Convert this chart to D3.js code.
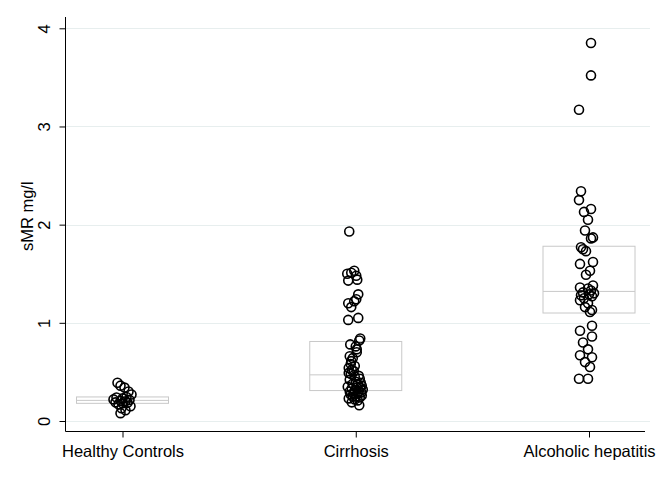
<!DOCTYPE html>
<html>
<head>
<meta charset="utf-8">
<script src="https://cdn.jsdelivr.net/npm/d3@7"></script>
<style>
  html, body { margin: 0; padding: 0; background: #fff; }
  svg { display: block; font-family: "Liberation Sans", Arial, Helvetica, sans-serif; }
</style>
</head>
<body>
<svg id="chart" width="661" height="481"></svg>
<script>
// ---- data ----
const categories = ["Healthy Controls", "Cirrhosis", "Alcoholic hepatitis"];
const yTicks = [0, 1, 2, 3, 4];
const yLabel = "sMR mg/l";

// observed values per group
const healthyValues = [0.39, 0.36, 0.34, 0.30, 0.27, 0.245, 0.24, 0.23, 0.22, 0.215,
  0.205, 0.20, 0.19, 0.185, 0.18, 0.17, 0.15, 0.13, 0.11, 0.08];
const healthyJitter = [-0.5, -0.2, 0.2, 0.6, 0.9, 0.4, -0.6, 0.0, -0.9, 0.7,
  -0.2, 0.3, -0.7, 0.5, 0.0, -0.4, 0.8, -0.1, 0.3, -0.2];

const cirrhosisValues = [1.93, 1.53, 1.51, 1.50, 1.48, 1.44, 1.43, 1.29, 1.24, 1.22,
  1.20, 1.16, 1.05, 1.03, 0.84, 0.82,
  0.78, 0.76, 0.73, 0.70, 0.66, 0.64, 0.61, 0.58, 0.56, 0.54, 0.52, 0.51, 0.49, 0.48,
  0.46, 0.45, 0.43, 0.42, 0.40, 0.39, 0.38, 0.37, 0.36, 0.35, 0.34, 0.34, 0.33, 0.32, 0.31,
  0.30, 0.30, 0.29, 0.28, 0.28, 0.27, 0.26, 0.25, 0.25, 0.24, 0.23, 0.22, 0.21, 0.19, 0.16];
const cirrhosisJitter = [-0.65, -0.15, -0.45, -0.85, 0.05, 0.15, -0.75, 0.25, 0.05, -0.15,
  -0.75, -0.45, 0.25, -0.75, 0.45, 0.35,
  -0.55, 0.0, 0.1, 0.1, -0.6, -0.3, -0.45, -0.5, -0.1, -0.7, -0.4, -0.2, -0.7, -0.5,
  0.3, -0.1, 0.4, -0.6, 0.0, 0.5, -0.3, 0.2, 0.6, -0.8, 0.1, 0.45, -0.4, 0.7, -0.1,
  0.3, -0.6, 0.55, -0.2, 0.2, -0.5, 0.6, 0.0, -0.3, 0.4, -0.7, -0.1, 0.2, -0.4, 0.35];

const hepatitisValues = [3.85, 3.52, 3.17, 2.34, 2.25, 2.16, 2.13, 2.05, 1.94, 1.87, 1.86,
  1.77, 1.75, 1.73, 1.62, 1.60, 1.53, 1.49, 1.38, 1.36, 1.35, 1.33,
  1.31, 1.30, 1.29, 1.28, 1.27, 1.25, 1.23, 1.20, 1.16, 1.13, 1.11,
  0.97, 0.92, 0.86, 0.80, 0.73, 0.67, 0.65, 0.60, 0.55, 0.43, 0.43];
const hepatitisJitter = [0.2, 0.2, -1.0, -0.8, -1.0, 0.2, -0.5, -0.1, -0.4, 0.4, 0.2,
  -0.8, -0.6, -0.3, 0.4, -0.9, 0.1, -0.3, 0.4, -0.9, -0.1, 0.2,
  -0.6, 0.5, 0.0, -0.8, 0.3, -0.5, -0.9, -0.1, -0.4, 0.3, 0.1,
  0.3, -0.9, 0.3, -0.6, -0.1, -0.9, 0.3, -0.4, 0.1, -1.0, -0.1];

// box statistics (q1, median, q3)
const boxQ1 = [0.18, 0.31, 1.10];
const boxMedian = [0.21, 0.47, 1.32];
const boxQ3 = [0.245, 0.81, 1.78];

const groups = [
  { cat: categories[0], values: healthyValues, jitter: healthyJitter },
  { cat: categories[1], values: cirrhosisValues, jitter: cirrhosisJitter },
  { cat: categories[2], values: hepatitisValues, jitter: hepatitisJitter }
];

// ---- layout ----
const svg = d3.select("#chart");
const plotLeft = 65.5, plotRight = 650, plotTop = 17, plotBottom = 431.5;
const fontSize = 16.5;

const y = d3.scaleLinear().domain([0, 4]).range([421, 28.3]);
const x = d3.scalePoint().domain(categories).range([122.5, 589]);
const jit = d3.scaleLinear().domain([-1, 1]).range([-10, 10]);
const boxHalf = 46;

// gridlines
svg.append("g")
  .selectAll("line").data(yTicks).join("line")
  .attr("x1", plotLeft).attr("x2", plotRight)
  .attr("y1", d => Math.round(y(d)) + 0.5).attr("y2", d => Math.round(y(d)) + 0.5)
  .attr("stroke", "#e7eeee").attr("stroke-width", 1);

// boxes
const boxG = svg.append("g");
categories.forEach((c, i) => {
  const cx = x(c);
  boxG.append("rect")
    .attr("x", cx - boxHalf).attr("width", boxHalf * 2)
    .attr("y", y(boxQ3[i])).attr("height", y(boxQ1[i]) - y(boxQ3[i]))
    .attr("fill", "none").attr("stroke", "#c8c8c8").attr("stroke-width", 1);
  boxG.append("line")
    .attr("x1", cx - boxHalf).attr("x2", cx + boxHalf)
    .attr("y1", y(boxMedian[i])).attr("y2", y(boxMedian[i]))
    .attr("stroke", "#c8c8c8").attr("stroke-width", 1);
});

// points
const pts = [];
groups.forEach(g => g.values.forEach((v, i) => pts.push({ cat: g.cat, v, j: g.jitter[i] })));
svg.append("g")
  .selectAll("circle").data(pts).join("circle")
  .attr("cx", d => x(d.cat) + jit(d.j))
  .attr("cy", d => y(d.v))
  .attr("r", 4.5)
  .attr("fill", "none")
  .attr("stroke", "#000")
  .attr("stroke-width", 1.6);

// y axis
const yAxis = svg.append("g")
  .attr("transform", `translate(${plotLeft},0)`)
  .call(d3.axisLeft(y).tickValues(yTicks).tickSize(6).tickPadding(0).tickFormat(d3.format("d")));
yAxis.select(".domain").attr("d", `M0,${plotTop}V${plotBottom}`).attr("stroke", "#000");
yAxis.selectAll(".tick line").attr("stroke", "#000");
yAxis.selectAll(".tick text")
  .attr("x", 0).attr("y", 0).attr("dy", null)
  .attr("text-anchor", "middle")
  .attr("transform", "translate(-15.5,0) rotate(-90)")
  .attr("font-size", fontSize).attr("fill", "#000")
  .style("font-family", "'Liberation Sans', Arial, sans-serif");

// x axis
const xAxis = svg.append("g")
  .attr("transform", `translate(0,${plotBottom})`)
  .call(d3.axisBottom(x).tickSize(6).tickPadding(5));
xAxis.select(".domain").attr("d", `M${plotLeft},0H${plotRight - 5}`).attr("stroke", "#000");
xAxis.selectAll(".tick line").attr("stroke", "#000");
xAxis.selectAll(".tick text")
  .attr("font-size", fontSize).attr("fill", "#000")
  .attr("dy", "0.85em")
  .style("font-family", "'Liberation Sans', Arial, sans-serif");

// y label
svg.append("text")
  .attr("transform", `translate(33,${(plotTop + plotBottom) / 2 - 8}) rotate(-90)`)
  .attr("text-anchor", "middle")
  .attr("font-size", fontSize)
  .text(yLabel);
</script>
</body>
</html>
